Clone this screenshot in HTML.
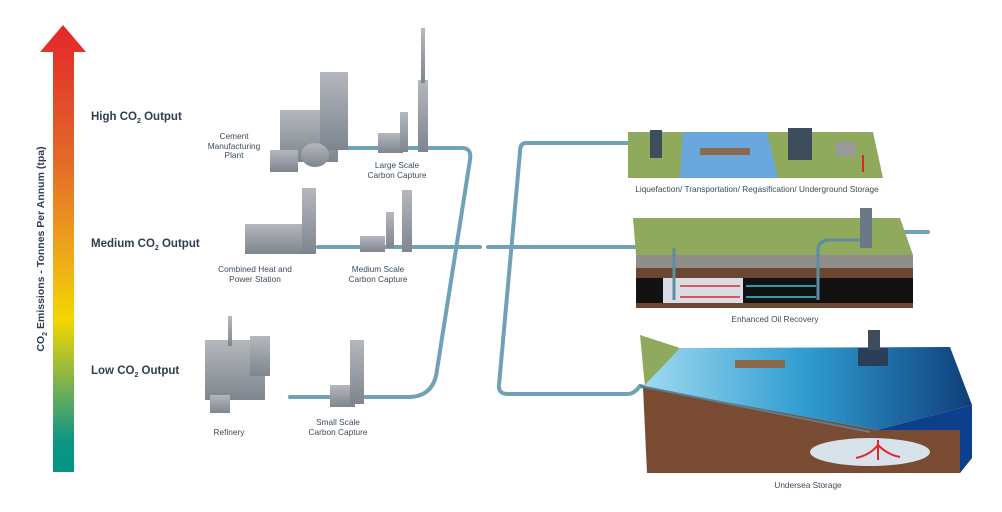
<!DOCTYPE html>
<html><head><meta charset="utf-8"><style>
html,body{margin:0;padding:0;background:#fff;}
svg{display:block;font-family:"Liberation Sans",sans-serif;}
.l{font-size:11.5px;font-weight:bold;fill:#2e3d4f;}
.s{font-size:8.3px;fill:#3d4b5a;text-anchor:middle;}
</style></head><body>
<svg width="1002" height="512" viewBox="0 0 1002 512" xmlns="http://www.w3.org/2000/svg">
<defs>
<linearGradient id="ar" x1="0" y1="0" x2="0" y2="1">
<stop offset="0" stop-color="#e3262a"/><stop offset="0.3" stop-color="#e2692a"/>
<stop offset="0.55" stop-color="#f0b316"/><stop offset="0.66" stop-color="#f3d700"/>
<stop offset="0.82" stop-color="#6fae57"/><stop offset="0.93" stop-color="#0e9584"/><stop offset="1" stop-color="#009584"/>
</linearGradient>
<linearGradient id="sea" x1="0" y1="0" x2="1" y2="0">
<stop offset="0" stop-color="#9fdaf0"/><stop offset="0.5" stop-color="#2f9bd0"/><stop offset="1" stop-color="#0f3f7a"/>
</linearGradient>
<linearGradient id="gr" x1="0" y1="0" x2="0" y2="1"><stop offset="0" stop-color="#b4b8bd"/><stop offset="1" stop-color="#7e858d"/></linearGradient>
</defs>
<!-- arrow -->
<polygon points="63,25 86,52 74,52 74,472 53,472 53,52 40,52" fill="url(#ar)"/>
<text transform="translate(44,249) rotate(-90)" text-anchor="middle" style="font-size:10.5px;font-weight:bold;fill:#2e3d4f">CO<tspan font-size="7" dy="3">2</tspan><tspan dy="-3"> Emissions - Tonnes Per Annum (tpa)</tspan></text>
<text x="91" y="120" class="l">High CO<tspan font-size="7" dy="3">2</tspan><tspan dy="-3"> Output</tspan></text>
<text x="91" y="247" class="l">Medium CO<tspan font-size="7" dy="3">2</tspan><tspan dy="-3"> Output</tspan></text>
<text x="91" y="374" class="l">Low CO<tspan font-size="7" dy="3">2</tspan><tspan dy="-3"> Output</tspan></text>

<!-- pipes -->
<g fill="none" stroke="#6fa2b8" stroke-width="4" stroke-linecap="round">
<path d="M345,148 L462,148 Q472,148 470,160 L437,370 Q434,396 410,397 L365,397"/>
<path d="M318,247 L480,247"/>
<path d="M488,247 L640,247"/>
<path d="M630,143 L526,143 Q520,143 520,152 L499,385 Q498,394 508,394 L628,394 Q634,394 640,386 L870,432"/>
<path d="M290,397 L362,397"/>
<path d="M900,232 L928,232"/>
</g>
<!-- cement plant -->
<g fill="url(#gr)">
<rect x="280" y="110" width="58" height="52"/><rect x="320" y="72" width="28" height="78"/>
<rect x="270" y="150" width="28" height="22"/><ellipse cx="315" cy="155" rx="14" ry="12"/>
<rect x="378" y="133" width="25" height="20"/><rect x="400" y="112" width="8" height="40"/>
<rect x="418" y="80" width="10" height="72"/><rect x="421" y="28" width="4" height="55"/>
<!-- CHP -->
<rect x="245" y="224" width="65" height="30"/><rect x="302" y="188" width="14" height="66"/>
<rect x="360" y="236" width="25" height="16"/><rect x="386" y="212" width="8" height="36"/>
<rect x="402" y="190" width="10" height="62"/>
<!-- refinery -->
<rect x="205" y="340" width="60" height="60"/><rect x="228" y="316" width="4" height="30"/>
<rect x="250" y="336" width="20" height="40"/><rect x="210" y="395" width="20" height="18"/>
<rect x="330" y="385" width="25" height="22"/><rect x="350" y="340" width="14" height="64"/>
</g>
<text class="s"><tspan x="234" y="139">Cement</tspan><tspan x="234" y="149">Manufacturing</tspan><tspan x="234" y="158">Plant</tspan></text>
<text class="s"><tspan x="397" y="168">Large Scale</tspan><tspan x="397" y="178">Carbon Capture</tspan></text>
<text class="s"><tspan x="255" y="272">Combined Heat and</tspan><tspan x="255" y="282">Power Station</tspan></text>
<text class="s"><tspan x="378" y="272">Medium Scale</tspan><tspan x="378" y="282">Carbon Capture</tspan></text>
<text class="s"><tspan x="229" y="435">Refinery</tspan></text>
<text class="s"><tspan x="338" y="425">Small Scale</tspan><tspan x="338" y="435">Carbon Capture</tspan></text>

<!-- top block -->
<polygon points="628,132 873,132 883,178 628,178" fill="#8faa5c"/>
<polygon points="683,132 767,132 778,178 680,178" fill="#6aa7dc"/>
<rect x="700" y="148" width="50" height="7" fill="#8a6a4c"/>
<rect x="650" y="130" width="12" height="28" fill="#3d4d5c"/>
<rect x="788" y="128" width="24" height="32" fill="#3d4d5c"/>
<rect x="836" y="142" width="20" height="14" fill="#9a9a9a"/>
<path d="M863,155 L863,172" stroke="#d8262a" stroke-width="2"/>
<text class="s" x="757" y="192">Liquefaction/ Transportation/ Regasification/ Underground Storage</text>

<!-- EOR block -->
<polygon points="633,218 900,218 913,255 636,255" fill="#8faa5c"/>
<rect x="636" y="255" width="277" height="13" fill="#8e8e8a"/>
<rect x="636" y="268" width="277" height="10" fill="#6b4632"/>
<rect x="636" y="278" width="277" height="25" fill="#121212"/>
<rect x="663" y="278" width="80" height="25" fill="#d9dde3"/>
<rect x="636" y="303" width="277" height="5" fill="#6b4632"/>
<g stroke="#e3262a" stroke-width="1.5" fill="none"><path d="M680,286 h60 M680,297 h60"/></g>
<g stroke="#3cc3e8" stroke-width="1.5" fill="none"><path d="M746,286 h70 M746,297 h70"/></g>
<path d="M674,248 L674,300 M818,300 L818,250 Q818,240 830,240 L865,240" stroke="#5e8ca0" stroke-width="3" fill="none"/>
<rect x="860" y="208" width="12" height="40" fill="#6a7885"/>
<text class="s" x="775" y="322">Enhanced Oil Recovery</text>

<!-- undersea block -->
<polygon points="640,335 680,348 645,387" fill="#8faa5c"/>
<polygon points="680,348 950,347 972,405 877,430 643,387" fill="url(#sea)"/>
<polygon points="643,387 877,430 960,430 960,473 647,473" fill="#7a4b33"/>
<polygon points="877,430 972,405 972,458 960,473 960,430" fill="#0c3f8c"/>
<ellipse cx="870" cy="452" rx="60" ry="14" fill="#d8e2ea"/>
<g stroke="#e3262a" stroke-width="2" fill="none"><path d="M878,440 L878,460 M878,445 Q870,455 856,458 M878,445 Q888,455 900,457"/></g>
<rect x="735" y="360" width="50" height="8" fill="#8a6a4c"/>
<rect x="858" y="348" width="30" height="18" fill="#2b3e57"/>
<rect x="868" y="330" width="12" height="20" fill="#3d4d5c"/>
<path d="M640,386 L870,432" stroke="#5e7d8f" stroke-width="2" fill="none"/>
<text class="s" x="808" y="488">Undersea Storage</text>
</svg>
</body></html>
